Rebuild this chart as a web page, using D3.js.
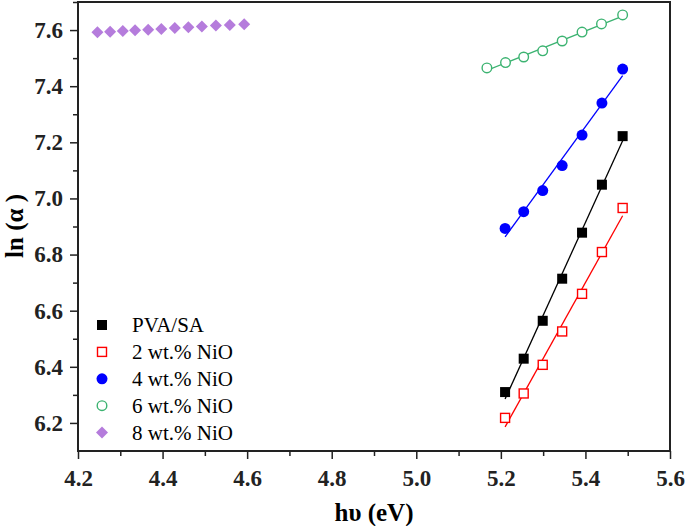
<!DOCTYPE html>
<html>
<head>
<meta charset="utf-8">
<script src="https://cdn.jsdelivr.net/npm/d3@7"></script>
<style>
  body { margin: 0; background: #fff; }
  svg { display: block; }
</style>
</head>
<body>
<div id="chart"></div>
<script>
// photon energy (eV) for each sample
const xPVA = [5.21, 5.254, 5.299, 5.345, 5.392, 5.439, 5.488];
const xNiO6 = [5.167, 5.211, 5.254, 5.299, 5.345, 5.392, 5.438, 5.488];
const xNiO8 = [4.246, 4.276, 4.306, 4.335, 4.366, 4.397, 4.429, 4.461, 4.493, 4.526, 4.559, 4.593];

// ln(alpha) values
const yPVA = [6.310, 6.429, 6.564, 6.714, 6.878, 7.049, 7.222];
const yNiO2 = [6.218, 6.305, 6.407, 6.526, 6.660, 6.809, 6.966];
const yNiO4 = [6.893, 6.953, 7.028, 7.117, 7.226, 7.340, 7.461];
const yNiO6 = [7.465, 7.484, 7.504, 7.526, 7.561, 7.593, 7.622, 7.654];
const yNiO8 = [7.592, 7.594, 7.597, 7.599, 7.601, 7.604, 7.607, 7.610, 7.613, 7.616, 7.618, 7.621];

const xTicks = [4.2, 4.4, 4.6, 4.8, 5.0, 5.2, 5.4, 5.6];
const yTicks = [6.2, 6.4, 6.6, 6.8, 7.0, 7.2, 7.4, 7.6];

const series = [
  { name: "PVA/SA", x: xPVA, y: yPVA, color: "#000000", shape: "square", fill: true, fit: true },
  { name: "2 wt.% NiO", x: xPVA, y: yNiO2, color: "#ff0000", shape: "square", fill: false, fit: true },
  { name: "4 wt.% NiO", x: xPVA, y: yNiO4, color: "#0000ff", shape: "circle", fill: true, fit: true },
  { name: "6 wt.% NiO", x: xNiO6, y: yNiO6, color: "#3cb371", shape: "circle", fill: false, fit: true },
  { name: "8 wt.% NiO", x: xNiO8, y: yNiO8, color: "#b57cdc", shape: "diamond", fill: true, fit: false }
];

const width = 685, height = 526;
const margin = { top: 2, right: 15, bottom: 75, left: 78 };
const serif = "'Liberation Serif', 'Times New Roman', serif";

const svg = d3.select("#chart").append("svg")
  .attr("width", width)
  .attr("height", height);

const x = d3.scaleLinear().domain([4.2, 5.6]).range([margin.left, width - margin.right]);
const y = d3.scaleLinear().domain([6.1, 7.7]).range([height - margin.bottom, margin.top]);

function linFit(xs, ys) {
  const mx = d3.mean(xs), my = d3.mean(ys);
  let num = 0, den = 0;
  xs.forEach((v, i) => { num += (v - mx) * (ys[i] - my); den += (v - mx) * (v - mx); });
  const b = num / den;
  return v => my + b * (v - mx);
}

// fitted lines
series.filter(s => s.fit).forEach(s => {
  const f = linFit(s.x, s.y);
  const x0 = d3.min(s.x), x1 = d3.max(s.x);
  svg.append("line")
    .attr("x1", x(x0)).attr("y1", y(f(x0)))
    .attr("x2", x(x1)).attr("y2", y(f(x1)))
    .style("stroke", s.color)
    .style("stroke-width", 1.3);
});

function marker(g, s, cx, cy) {
  let el;
  if (s.shape === "square") {
    const sz = s.fill ? 10 : 9;
    el = g.append("rect").attr("x", cx - sz / 2).attr("y", cy - sz / 2).attr("width", sz).attr("height", sz);
  } else if (s.shape === "circle") {
    el = g.append("circle").attr("cx", cx).attr("cy", cy).attr("r", s.fill ? 5.5 : 4.8);
  } else {
    const r = 6;
    el = g.append("path").attr("d", `M${cx},${cy - r}L${cx + r},${cy}L${cx},${cy + r}L${cx - r},${cy}Z`);
  }
  if (s.fill) el.style("fill", s.color);
  else el.style("fill", "#fff").style("stroke", s.color).style("stroke-width", 1.4);
}

series.forEach(s => {
  const g = svg.append("g");
  s.y.forEach((v, i) => marker(g, s, x(s.x[i]), y(v)));
});

// frame
svg.append("rect")
  .attr("x", margin.left).attr("y", margin.top)
  .attr("width", width - margin.left - margin.right)
  .attr("height", height - margin.top - margin.bottom)
  .style("fill", "none")
  .style("stroke", "#222")
  .style("stroke-width", 2);

// axes
const minorX = d3.range(4.3, 5.6, 0.2);
const minorY = d3.range(6.3, 7.7, 0.2);

const xAxis = svg.append("g").attr("transform", `translate(0,${height - margin.bottom})`);
xAxis.call(d3.axisBottom(x).tickValues(xTicks).tickFormat(d3.format(".1f")).tickSize(8).tickPadding(11));
xAxis.append("g").call(d3.axisBottom(x).tickValues(minorX).tickFormat("").tickSize(5));

const yAxis = svg.append("g").attr("transform", `translate(${margin.left},0)`);
yAxis.call(d3.axisLeft(y).tickValues(yTicks).tickFormat(d3.format(".1f")).tickSize(8).tickPadding(7));
yAxis.append("g").call(d3.axisLeft(y).tickValues(minorY).tickFormat("").tickSize(5));

svg.selectAll(".domain").remove();
svg.selectAll(".tick line").style("stroke", "#222").style("stroke-width", 1.5);
svg.selectAll(".tick text")
  .style("font-family", serif)
  .style("font-weight", "bold")
  .style("font-size", "23px")
  .style("fill", "#222");

// axis titles
svg.append("text")
  .attr("x", (margin.left + width - margin.right) / 2)
  .attr("y", 521)
  .attr("text-anchor", "middle")
  .style("font-family", serif)
  .style("font-weight", "bold")
  .style("font-size", "25px")
  .text("hυ (eV)");

svg.append("text")
  .attr("transform", "translate(23,226) rotate(-90)")
  .attr("text-anchor", "middle")
  .style("font-family", serif)
  .style("font-weight", "bold")
  .style("font-size", "25px")
  .text("ln (α )");

// legend
const legend = svg.append("g");
series.forEach((s, i) => {
  const ly = 325 + i * 26.9;
  marker(legend, s, 102, ly);
  legend.append("text")
    .attr("x", 132)
    .attr("y", ly + 7)
    .style("font-family", serif)
    .style("font-size", "21px")
    .text(s.name);
});
</script>
</body>
</html>
